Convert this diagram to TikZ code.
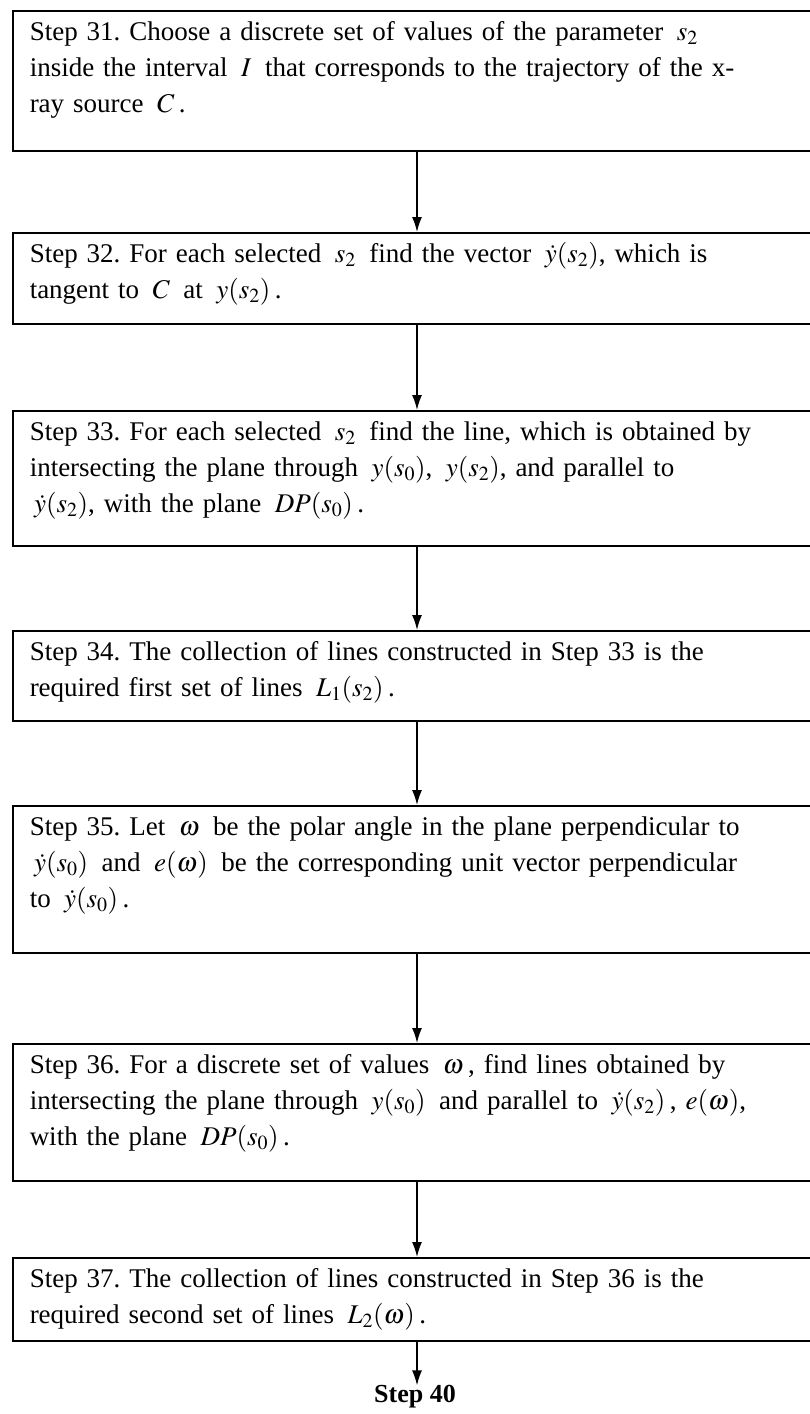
\documentclass[tikz,border=0pt]{standalone}
\usepackage{mathptmx}
\usepackage{fontspec}
\setmainfont{Liberation Serif}
\usepackage{tikz}
\usetikzlibrary{arrows.meta}
\frenchspacing

% box: top-aligned text, #1 = depth below first baseline
\tikzset{
  stepbox/.style={draw,rectangle,line width=1.5pt,anchor=north west,
    text width=800pt,inner xsep=17pt,inner ysep=0pt,align=left,
    text height=30pt,text depth=#1,font=\fontsize{27}{36}\selectfont},
  flowarrow/.style={line width=1.5pt,-{Latex[length=15pt,width=10pt]}}
}

\begin{document}
\begin{tikzpicture}[x=1pt,y=-1pt]
\useasboundingbox (0,0) rectangle (809,1414);
\coordinate (ax) at (417,0);
\node[stepbox=110pt] (b1) at (12,10) {Step 31. Choose a discrete set of values of the parameter \,$s_2$\\
inside the interval \,$I$\, that corresponds to the trajectory of the x-\\
ray source \,$C$\,.};
\node[stepbox=61pt] (b2) at (12,232) {Step 32. For each selected \,$s_2$\, find the vector \,$\dot y(s_2)$, which is\\
tangent to \,$C$\, at \,$y(s_2)$\,.};
\node[stepbox=105pt] (b3) at (12,410) {Step 33. For each selected \,$s_2$\, find the line, which is obtained by\\
intersecting the plane through \,$y(s_0)$, \,$y(s_2)$, and parallel to\\
\,$\dot y(s_2)$, with the plane \,$DP(s_0)$\,.};
\node[stepbox=60pt] (b4) at (12,630) {Step 34. The collection of lines constructed in Step 33 is the\\
required first set of lines \,$L_1(s_2)$\,.};
\node[stepbox=117pt] (b5) at (12,805) {Step 35. Let \,$\omega$\, be the polar angle in the plane perpendicular to\\
\,$\dot y(s_0)$\, and \,$e(\omega)$\, be the corresponding unit vector perpendicular\\
to \,$\dot y(s_0)$\,.};
\node[stepbox=107pt] (b6) at (12,1043) {Step 36. For a discrete set of values \,$\omega$\,, find lines obtained by\\
intersecting the plane through \,$y(s_0)$\, and parallel to \,$\dot y(s_2)$\,, $e(\omega)$,\\
with the plane \,$DP(s_0)$\,.};
\node[stepbox=53pt] (b7) at (12,1257) {Step 37. The collection of lines constructed in Step 36 is the\\
required second set of lines \,$L_2(\omega)$\,.};
\node[font=\fontsize{26}{30}\selectfont\bfseries,inner sep=0pt] (s40) at (415,1397) {Step 40};
% connectors
\foreach \a/\b in {b1/b2,b2/b3,b3/b4,b4/b5,b5/b6,b6/b7} {
  \draw[flowarrow] (\a.south -| ax) -- (\b.north -| ax);
}
\draw[flowarrow] (b7.south -| ax) -- (s40.north -| ax);
\end{tikzpicture}
\end{document}
